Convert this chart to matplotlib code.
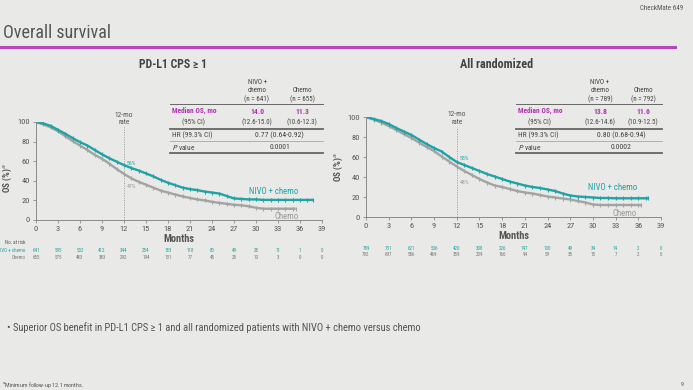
import matplotlib
matplotlib.use("Agg")
import matplotlib.pyplot as plt
from matplotlib.lines import Line2D
from matplotlib import font_manager

# pick a condensed / narrow sans font if one is installed
_fonts = font_manager.fontManager.ttflist
_names = {f.name for f in _fonts}
FAM = None
STRETCH = "normal"
for cand in ["Liberation Sans Narrow", "Roboto Condensed", "Open Sans Condensed",
             "Noto Sans Condensed", "DejaVu Sans Condensed"]:
    if cand in _names:
        FAM = cand
        break
if FAM is None:
    for cand in ["Noto Sans", "Open Sans", "DejaVu Sans", "Roboto"]:
        if any(f.name == cand and str(f.stretch) in ("condensed", "semi-condensed", "extra-condensed", "62.5", "75", "87.5")
               for f in _fonts):
            FAM = cand
            STRETCH = "condensed"
            break
if FAM is None:
    FAM = "Liberation Sans"
plt.rcParams['font.family'] = [FAM, 'DejaVu Sans']
plt.rcParams['font.stretch'] = STRETCH

# ---------------- data ----------------
months_ticks = list(range(0, 40, 3))

l_nivo_t = [0, 1, 2, 3, 4, 5, 6, 7, 8, 9, 10, 11, 12, 13, 14, 15, 16, 17, 18, 19, 20,
            21, 22, 23, 24, 25, 26, 27, 28, 29, 30, 31, 32, 33, 34, 35, 36, 37, 37.8]
l_nivo_s = [100, 98.5, 96, 92, 88, 83.5, 79.5, 76, 71.5, 67, 63, 59.5, 56, 53, 50.5, 47.5,
            44.5, 41, 38, 35.5, 33, 31.5, 30.5, 29, 28, 27, 24.5, 22, 21.5, 21, 21, 20.5,
            20.5, 20.5, 20.5, 20.5, 20.5, 20.5, 20.5]
l_chemo_t = [0, 1, 2, 3, 4, 5, 6, 7, 8, 9, 10, 11, 12, 13, 14, 15, 16, 17, 18, 19, 20,
             21, 22, 23, 24, 25, 26, 27, 28, 29, 30, 31, 32, 33, 34, 35, 35.4]
l_chemo_s = [100, 97.5, 94.5, 90.5, 85.5, 80.5, 76, 71.5, 66.5, 62.5, 57.5, 52, 47, 42.5,
             39, 36, 33, 30, 28, 26, 24, 22.5, 21, 20, 18.5, 17.5, 16.5, 15.5, 15, 14,
             12.5, 11.5, 11.5, 11.5, 11.5, 11.5, 11.5]

r_nivo_t = [0, 1, 2, 3, 4, 5, 6, 7, 8, 9, 10, 11, 12, 13, 14, 15, 16, 17, 18, 19, 20,
            21, 22, 23, 24, 25, 26, 27, 28, 29, 30, 31, 32, 33, 34, 35, 36, 37, 37.3]
r_nivo_s = [100, 98, 96, 93, 89, 85.5, 82, 77.5, 73, 69, 65.5, 60, 55, 52, 49, 46, 43,
            40.5, 38, 35.5, 33.5, 31.5, 30, 29, 27.5, 26, 23.5, 21.5, 20.5, 20, 19.5, 19,
            19, 18.7, 18.7, 18.7, 18.7, 18.7, 18.7]
r_chemo_t = [0, 1, 2, 3, 4, 5, 6, 7, 8, 9, 10, 11, 12, 13, 14, 15, 16, 17, 18, 19, 20,
             21, 22, 23, 24, 25, 26, 27, 28, 29, 30, 31, 32, 33, 34, 35, 36, 36.4]
r_chemo_s = [100, 97.5, 94.5, 91, 87, 83, 79, 74.5, 70, 66, 60.5, 55.5, 50.5, 46, 42, 38,
             34.5, 31.5, 30, 28, 26, 24.5, 23.5, 22, 20.5, 19.5, 18.5, 17.5, 16, 14.5,
             12.5, 12, 12, 12, 12, 12, 12, 12]

l_risk_nivo = [641, 595, 502, 412, 344, 254, 183, 118, 80, 49, 28, 11, 1, 0]
l_risk_chemo = [655, 575, 483, 383, 292, 194, 131, 77, 45, 25, 10, 3, 0, 0]
r_risk_nivo = [789, 731, 621, 506, 420, 308, 226, 147, 100, 49, 34, 14, 2, 0]
r_risk_chemo = [792, 697, 586, 469, 359, 239, 160, 94, 59, 35, 15, 7, 2, 0]

l_rate = ["56%", "47%"]
r_rate = ["55%", "48%"]

l_table = {"n": ["(n = 641)", "(n = 655)"], "median": ["14.0", "11.3"],
           "ci": ["(12.6-15.0)", "(10.6-12.3)"], "hr": "0.77 (0.64-0.92)", "p": "0.0001"}
r_table = {"n": ["(n = 789)", "(n = 792)"], "median": ["13.8", "11.6"],
           "ci": ["(12.6-14.6)", "(10.9-12.5)"], "hr": "0.80 (0.68-0.94)", "p": "0.0002"}

# ---------------- style ----------------
BG = "#e9e9e7"
TEAL = "#1ea3a6"
GREY = "#a3a3a3"
MAG = "#b530b5"
TXT = "#444444"
W, H = 693, 390

fig = plt.figure(figsize=(W / 100, H / 100), dpi=100, facecolor=BG)


def fx(px):
    return px / W


def fy(py):
    return 1 - py / H


def ftext(x, y, s, **kw):
    fig.text(fx(x), fy(y), s, **kw)


def fline(x0, x1, y, lw=0.8, color="#666666"):
    fig.add_artist(Line2D([fx(x0), fx(x1)], [fy(y), fy(y)], lw=lw, color=color,
                          transform=fig.transFigure))


# header
ftext(3, 33, "Overall survival", fontsize=13, color="#555555", va="center", ha="left")
ftext(683, 8, "CheckMate 649", fontsize=5, color="#555555", va="center", ha="right")
fline(0, 675, 47, lw=2.2, color="#b548bb")


def panel(x0, x1, ytop, ybot, title, title_x, title_fs, nivo_t, nivo_s, chemo_t, chemo_s,
          rates, risk_n, risk_c, tab, tab_x0, col1, col2, show_risk_label, txt_y, dot_top,
          ylab_pos):
    ax = fig.add_axes([fx(x0), fy(ybot), fx(x1 - x0), (ybot - ytop) / H])
    ax.set_facecolor("none")
    ax.set_xlim(0, 39)
    ax.set_ylim(0, 100)
    for s in ["top", "right"]:
        ax.spines[s].set_visible(False)
    for s in ["left", "bottom"]:
        ax.spines[s].set_color("#8a8a8a")
        ax.spines[s].set_linewidth(0.7)
    ax.set_xticks(months_ticks)
    ax.set_yticks([0, 20, 40, 60, 80, 100])
    ax.tick_params(labelsize=6, colors="#8a8a8a", labelcolor="#555555", length=2.5,
                   width=0.6, pad=2)
    ax.set_xlabel("Months", fontsize=7.5, color="#555555", labelpad=1, fontweight="bold")
    ax.set_ylabel("OS (%)$^a$", fontsize=6.5, color="#555555", fontweight="bold")
    ax.yaxis.set_label_coords(*ylab_pos)
    ax.axvline(12, color="#999999", lw=0.7, ls=(0, (1, 1.5)), ymax=dot_top / 100,
               clip_on=False)
    ax.plot(chemo_t, chemo_s, color=GREY, lw=1.7, marker="|", ms=2.5, mew=0.8,
            solid_capstyle="butt")
    ax.plot(nivo_t, nivo_s, color=TEAL, lw=1.7, marker="|", ms=2.5, mew=0.8,
            solid_capstyle="butt")
    ax.text(12.4, 58, rates[0], fontsize=4.2, color=TEAL, ha="left", va="center")
    ax.text(12.4, 34, rates[1], fontsize=4.2, color="#999999", ha="left", va="center")
    ax.text(12, txt_y, "12-mo\nrate", fontsize=5.3, color="#555555", ha="center",
            va="center", linespacing=1.1)
    ax.text(35.8, 29, "NIVO + chemo", fontsize=6.3, color=TEAL, ha="right", va="center")
    ax.text(35.8, 3.5, "Chemo", fontsize=6.3, color="#999999", ha="right", va="center")

    # at risk
    for m, a, b in zip(months_ticks, risk_n, risk_c):
        ax.text(m, -31, str(a), fontsize=3.6, color=TEAL, ha="center", va="center",
                clip_on=False)
        ax.text(m, -38, str(b), fontsize=3.6, color="#777777", ha="center", va="center",
                clip_on=False)
    if show_risk_label:
        ax.text(-1.4, -23, "No. at risk", fontsize=3.6, color="#555555", ha="right",
                va="center", clip_on=False)
        ax.text(-1.4, -31, "NIVO + chemo", fontsize=3.6, color=TEAL, ha="right",
                va="center", clip_on=False)
        ax.text(-1.4, -38, "Chemo", fontsize=3.6, color="#777777", ha="right",
                va="center", clip_on=False)

    # title
    ftext(title_x, 64, title, fontsize=title_fs, fontweight="bold", color="#444444",
          ha="center", va="center")

    # table
    tx1 = x1 + 1
    fs = 5.0
    ftext(col1, 83, "NIVO +", fontsize=fs, color=TXT, ha="center", va="center")
    ftext(col1, 91, "chemo", fontsize=fs, color=TXT, ha="center", va="center")
    ftext(col1, 99, tab["n"][0], fontsize=fs, color=TXT, ha="center", va="center")
    ftext(col2, 91, "Chemo", fontsize=fs, color=TXT, ha="center", va="center")
    ftext(col2, 99, tab["n"][1], fontsize=fs, color=TXT, ha="center", va="center")
    fline(tab_x0, tx1, 104, lw=0.7)
    ftext(tab_x0 + 2, 111, "Median OS, mo", fontsize=fs + 0.3, color=MAG, ha="left",
          va="center", fontweight="bold")
    ftext(col1, 111, tab["median"][0], fontsize=fs + 0.6, color=MAG, ha="center",
          va="center", fontweight="bold")
    ftext(col2, 111, tab["median"][1], fontsize=fs + 0.6, color=MAG, ha="center",
          va="center", fontweight="bold")
    ftext(tab_x0 + 23, 122, "(95% CI)", fontsize=fs, color=TXT, ha="center", va="center")
    ftext(col1, 122, tab["ci"][0], fontsize=fs, color=TXT, ha="center", va="center")
    ftext(col2, 122, tab["ci"][1], fontsize=fs, color=TXT, ha="center", va="center")
    fline(tab_x0, tx1, 129, lw=1.3)
    ftext(tab_x0 + 2, 135, "HR (99.3% CI)", fontsize=fs + 0.3, color=TXT, ha="left",
          va="center")
    ftext((col1 + col2) / 2, 135, tab["hr"], fontsize=fs + 0.6, color=TXT, ha="center",
          va="center")
    fline(tab_x0, tx1, 141, lw=0.5, color="#999999")
    ftext(tab_x0 + 2, 147, "$P$ value", fontsize=fs + 0.3, color=TXT, ha="left",
          va="center")
    ftext((col1 + col2) / 2, 147, tab["p"], fontsize=fs + 0.6, color=TXT, ha="center",
          va="center")
    fline(tab_x0, tx1, 153, lw=1.3)
    return ax


panel(36, 322, 122, 220, "PD-L1 CPS \u2265 1", 173, 8.5, l_nivo_t, l_nivo_s, l_chemo_t,
      l_chemo_s, l_rate, l_risk_nivo, l_risk_chemo, l_table, 170, 257, 302, True, 103, 95,
      (-0.077, 0.43))
panel(366, 661, 117, 217, "All randomized", 497, 8.7, r_nivo_t, r_nivo_s, r_chemo_t,
      r_chemo_s, r_rate, r_risk_nivo, r_risk_chemo, r_table, 516, 600, 643, False, 98.5, 90,
      (-0.071, 0.5))

ftext(7, 328, "\u2022 Superior OS benefit in PD-L1 CPS \u2265 1 and all randomized patients "
      "with NIVO + chemo versus chemo", fontsize=7.6, color="#555555", ha="left",
      va="center")
ftext(2, 385, "$^a$Minimum follow-up 12.1 months.", fontsize=4.3, color="#555555",
      ha="left", va="center")
ftext(684, 384, "9", fontsize=4.3, color="#555555", ha="right", va="center")

fig.savefig("out.png", dpi=100, facecolor=BG)
